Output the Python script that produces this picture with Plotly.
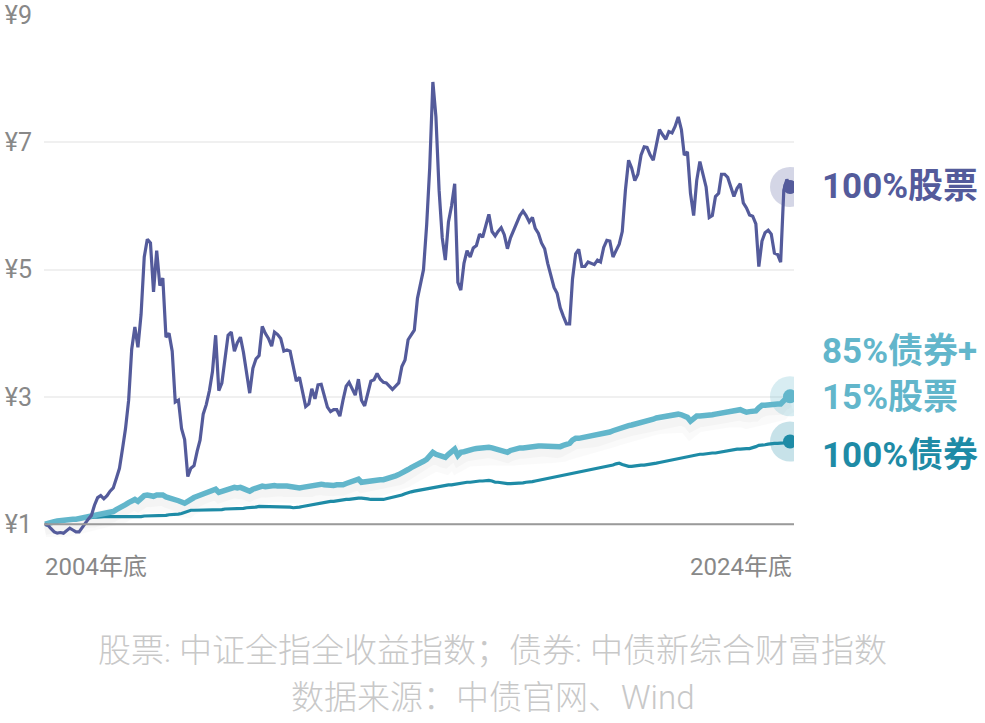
import pandas as pd
import plotly.graph_objects as go

# 月末数据：2004年底 -> 2024年底（起点=1元）
dates = pd.date_range("2004-12-31", periods=241, freq="ME")

stock = [
    1.00, 0.98, 0.93, 0.88, 0.86, 0.87, 0.86, 0.90, 0.94, 0.91, 0.88, 0.88,
    0.95, 1.03, 1.08, 1.14, 1.30, 1.42, 1.45, 1.40, 1.45, 1.52, 1.57, 1.72,
    1.88, 2.20, 2.50, 2.95, 3.75, 4.10, 3.78, 4.30, 5.20, 5.48, 5.42, 4.65,
    5.30, 4.75, 4.87, 3.94, 4.00, 3.72, 2.92, 2.95, 2.50, 2.33, 1.75, 1.88,
    1.92, 2.15, 2.32, 2.73, 2.88, 3.10, 3.40, 3.97, 3.10, 3.22, 3.60, 3.97,
    4.02, 3.72, 3.85, 3.94, 3.70, 3.40, 3.06, 3.45, 3.60, 3.65, 4.11, 4.00,
    3.92, 3.80, 4.02, 3.98, 3.92, 3.72, 3.74, 3.72, 3.50, 3.25, 3.31, 3.05,
    2.85, 2.89, 3.13, 2.97, 3.19, 3.20, 3.00, 2.84, 2.77, 2.80, 2.80, 2.70,
    2.95, 3.17, 3.23, 3.12, 3.03, 3.28, 2.95, 2.86, 3.05, 3.25, 3.27, 3.37,
    3.28, 3.23, 3.22, 3.16, 3.12, 3.17, 3.22, 3.48, 3.58, 3.90, 3.97, 4.05,
    4.55, 4.82, 5.00, 5.70, 6.60, 7.95, 7.40, 6.25, 5.50, 5.15, 5.75, 6.00,
    6.35, 4.80, 4.68, 5.10, 5.30, 5.20, 5.34, 5.38, 5.56, 5.51, 5.70, 5.87,
    5.60, 5.53, 5.60, 5.66, 5.55, 5.33, 5.50, 5.62, 5.75, 5.85, 5.92, 5.85,
    5.75, 5.82, 5.65, 5.57, 5.42, 5.33, 5.10, 4.90, 4.72, 4.63, 4.40, 4.27,
    4.15, 4.15, 4.85, 5.25, 5.32, 5.05, 5.05, 5.12, 5.10, 5.08, 5.15, 5.12,
    5.35, 5.46, 5.45, 5.20, 5.30, 5.40, 5.60, 6.25, 6.72, 6.60, 6.40, 6.50,
    6.80, 6.93, 6.92, 6.80, 6.72, 6.95, 7.20, 7.12, 7.05, 7.17, 7.15, 7.25,
    7.40, 7.20, 6.80, 6.85, 6.20, 5.85, 6.40, 6.70, 6.50, 6.30, 5.82, 5.85,
    6.15, 6.20, 6.50, 6.50, 6.45, 6.30, 6.15, 6.28, 6.35, 6.05, 5.97, 5.86,
    5.84, 5.72, 5.05, 5.45, 5.58, 5.62, 5.56, 5.26, 5.24, 5.12, 6.25, 6.42, 6.30,
]

mix = [
    1.00, 1.02, 1.03, 1.04, 1.05, 1.06, 1.06, 1.07, 1.07, 1.08, 1.08, 1.09,
    1.10, 1.10, 1.11, 1.12, 1.12, 1.13, 1.14, 1.15, 1.16, 1.18, 1.20, 1.23,
    1.25, 1.28, 1.31, 1.34, 1.37, 1.39, 1.36, 1.40, 1.45, 1.46, 1.44, 1.44,
    1.46, 1.47, 1.46, 1.43, 1.42, 1.41, 1.39, 1.37, 1.35, 1.33, 1.36, 1.40,
    1.42, 1.44, 1.46, 1.48, 1.50, 1.52, 1.54, 1.55, 1.50, 1.52, 1.54, 1.56,
    1.57, 1.58, 1.57, 1.58, 1.56, 1.54, 1.52, 1.55, 1.57, 1.59, 1.60, 1.59,
    1.60, 1.60, 1.61, 1.60, 1.61, 1.60, 1.60, 1.59, 1.58, 1.57, 1.57, 1.58,
    1.59, 1.60, 1.60, 1.62, 1.64, 1.63, 1.62, 1.61, 1.62, 1.61, 1.62, 1.61,
    1.62, 1.64, 1.66, 1.68, 1.70, 1.71, 1.66, 1.67, 1.68, 1.68, 1.69, 1.69,
    1.70, 1.70, 1.71, 1.72, 1.74, 1.76, 1.78, 1.80, 1.83, 1.86, 1.89, 1.91,
    1.93, 1.96, 1.99, 2.02, 2.08, 2.13, 2.10, 2.08, 2.06, 2.05, 2.10, 2.14,
    2.18, 2.08, 2.13, 2.14, 2.16, 2.17, 2.18, 2.19, 2.20, 2.20, 2.21, 2.21,
    2.20, 2.19, 2.18, 2.17, 2.15, 2.13, 2.16, 2.18, 2.19, 2.20, 2.20, 2.21,
    2.21, 2.22, 2.22, 2.23, 2.23, 2.23, 2.22, 2.22, 2.21, 2.21, 2.22, 2.24,
    2.26, 2.27, 2.32, 2.35, 2.35, 2.36, 2.36, 2.37, 2.37, 2.38, 2.39, 2.40,
    2.41, 2.43, 2.45, 2.47, 2.49, 2.51, 2.53, 2.54, 2.55, 2.56, 2.57, 2.58,
    2.60, 2.61, 2.62, 2.64, 2.65, 2.67, 2.68, 2.69, 2.70, 2.70, 2.71, 2.72,
    2.73, 2.72, 2.70, 2.68, 2.62, 2.66, 2.70, 2.70, 2.70, 2.71, 2.71, 2.72,
    2.73, 2.74, 2.76, 2.77, 2.78, 2.79, 2.80, 2.81, 2.80, 2.78, 2.76, 2.77,
    2.78, 2.78, 2.83, 2.87, 2.87, 2.88, 2.88, 2.89, 2.89, 2.89, 2.95, 2.99, 3.01,
]

bond = [
    1.00, 1.01, 1.02, 1.03, 1.04, 1.05, 1.05, 1.06, 1.07, 1.08, 1.08, 1.09,
    1.09, 1.10, 1.10, 1.11, 1.11, 1.11, 1.12, 1.12, 1.12, 1.12, 1.11, 1.11,
    1.11, 1.11, 1.11, 1.11, 1.12, 1.12, 1.12, 1.12, 1.13, 1.13, 1.13, 1.13,
    1.13, 1.14, 1.14, 1.14, 1.15, 1.15, 1.15, 1.16, 1.17, 1.19, 1.21, 1.22,
    1.22, 1.22, 1.22, 1.22, 1.22, 1.22, 1.23, 1.23, 1.23, 1.23, 1.24, 1.24,
    1.24, 1.24, 1.25, 1.25, 1.25, 1.26, 1.26, 1.27, 1.27, 1.28, 1.28, 1.28,
    1.28, 1.27, 1.27, 1.27, 1.28, 1.28, 1.28, 1.27, 1.26, 1.26, 1.27, 1.28,
    1.29, 1.30, 1.31, 1.31, 1.32, 1.33, 1.34, 1.35, 1.36, 1.36, 1.37, 1.37,
    1.38, 1.39, 1.39, 1.40, 1.40, 1.41, 1.41, 1.41, 1.40, 1.39, 1.39, 1.38,
    1.38, 1.39, 1.40, 1.41, 1.42, 1.43, 1.44, 1.46, 1.48, 1.50, 1.51, 1.52,
    1.53, 1.54, 1.55, 1.55, 1.56, 1.57, 1.58, 1.59, 1.60, 1.61, 1.62, 1.62,
    1.63, 1.64, 1.65, 1.65, 1.66, 1.66, 1.67, 1.67, 1.68, 1.68, 1.69, 1.69,
    1.68, 1.66, 1.66, 1.65, 1.65, 1.64, 1.64, 1.64, 1.65, 1.65, 1.65, 1.66,
    1.66, 1.67, 1.68, 1.69, 1.70, 1.71, 1.72, 1.73, 1.74, 1.75, 1.76, 1.77,
    1.78, 1.79, 1.80, 1.81, 1.82, 1.83, 1.84, 1.85, 1.86, 1.87, 1.88, 1.89,
    1.90, 1.91, 1.92, 1.93, 1.95, 1.96, 1.94, 1.92, 1.91, 1.91, 1.92, 1.92,
    1.93, 1.93, 1.94, 1.95, 1.96, 1.96, 1.97, 1.98, 1.99, 2.00, 2.02, 2.03,
    2.04, 2.05, 2.06, 2.06, 2.07, 2.08, 2.09, 2.10, 2.10, 2.11, 2.11, 2.12,
    2.12, 2.13, 2.13, 2.14, 2.15, 2.16, 2.17, 2.18, 2.18, 2.19, 2.19, 2.19,
    2.20, 2.22, 2.24, 2.24, 2.25, 2.26, 2.27, 2.27, 2.27, 2.27, 2.28, 2.29, 2.30,
]

y_ticks = [1, 3, 5, 7, 9]
y_ticktext = ["¥1", "¥3", "¥5", "¥7", "¥9"]
x_labels = ["2004年底", "2024年底"]

C_STOCK = "#545b9b"
C_MIX = "#62b6cb"
C_BOND = "#1e8ba6"
FONT = "Roboto, Noto Sans CJK SC, sans-serif"

fig = go.Figure()

# 混合组合下方的淡阴影
fig.add_trace(go.Scatter(x=dates, y=[v - 0.12 for v in mix], mode="lines",
                         line=dict(color="rgba(0,0,0,0.02)", width=18),
                         hoverinfo="skip", showlegend=False))
fig.add_trace(go.Scatter(x=dates, y=[v - 0.1 for v in mix], mode="lines",
                         line=dict(color="rgba(0,0,0,0.025)", width=9),
                         hoverinfo="skip", showlegend=False))

fig.add_trace(go.Scatter(x=dates, y=bond, mode="lines",
                         line=dict(color=C_BOND, width=3.2), name="100%债券"))
fig.add_trace(go.Scatter(x=dates, y=mix, mode="lines",
                         line=dict(color=C_MIX, width=5.5), name="85%债券+15%股票"))
fig.add_trace(go.Scatter(x=dates, y=stock, mode="lines",
                         line=dict(color=C_STOCK, width=3.2), name="100%股票"))

# 终点的光圈和圆点
for series, halo, col in [(stock, "rgba(84,91,155,0.25)", C_STOCK),
                          (mix, "rgba(98,182,203,0.25)", C_MIX),
                          (bond, "rgba(30,139,166,0.25)", C_BOND)]:
    fig.add_trace(go.Scatter(x=[dates[-1]], y=[series[-1]], mode="markers",
                             marker=dict(size=40, color=halo), hoverinfo="skip",
                             showlegend=False))
    fig.add_trace(go.Scatter(x=[dates[-1]], y=[series[-1]], mode="markers",
                             marker=dict(size=14, color=col), showlegend=False))

# 右侧标签
label_style = dict(xref="x", yref="y", xanchor="left", yanchor="middle",
                   showarrow=False, xshift=30, align="left")
fig.add_annotation(x=dates[-1], y=stock[-1], text="<b>100%股票</b>",
                   font=dict(family=FONT, size=35, color=C_STOCK), **label_style)
fig.add_annotation(x=dates[-1], y=mix[-1], text="<b>85%债券+<br>15%股票</b>", yshift=22,
                   font=dict(family=FONT, size=35, color=C_MIX), **label_style)
fig.add_annotation(x=dates[-1], y=bond[-1], text="<b>100%债券</b>", yshift=-14,
                   font=dict(family=FONT, size=35, color=C_BOND), **label_style)

# x轴两端标签
fig.add_annotation(x=dates[0], y=-0.058, xref="x", yref="paper", text=x_labels[0],
                   xanchor="left", yanchor="middle", showarrow=False, xshift=-2,
                   font=dict(family=FONT, size=24, color="#888888"))
fig.add_annotation(x=dates[-1], y=-0.058, xref="x", yref="paper", text=x_labels[1],
                   xanchor="right", yanchor="middle", showarrow=False, xshift=4,
                   font=dict(family=FONT, size=24, color="#888888"))

# 底部说明（居中于整幅图）
fig.add_annotation(x=0.598, y=-0.218, xref="paper", yref="paper",
                   text="股票: 中证全指全收益指数；债券: 中债新综合财富指数",
                   showarrow=False, xanchor="center", yanchor="middle",
                   font=dict(family=FONT, size=33, color="#c8c8c8", weight=300))
fig.add_annotation(x=0.598, y=-0.308, xref="paper", yref="paper",
                   text="数据来源：中债官网、Wind",
                   showarrow=False, xanchor="center", yanchor="middle",
                   font=dict(family=FONT, size=33, color="#c8c8c8", weight=300))

# 基准线 ¥1
fig.add_shape(type="line", xref="paper", yref="y", x0=0, x1=1, y0=1, y1=1,
              line=dict(color="#9a9a9a", width=2))

fig.update_layout(
    width=985, height=723,
    margin=dict(l=44, r=191, t=15, b=186),
    plot_bgcolor="white", paper_bgcolor="white",
    showlegend=False,
    xaxis=dict(range=["2004-12-21", "2025-02-08"], showgrid=False, showticklabels=False,
               zeroline=False, showline=False, ticks="", automargin=False),
    yaxis=dict(range=[0.8, 9.002], tickvals=y_ticks, ticktext=y_ticktext,
               showgrid=True, gridcolor="#f0f0f0", gridwidth=1.5, zeroline=False,
               showline=False, ticks="", ticklabelstandoff=11, automargin=False,
               tickfont=dict(family=FONT, size=25, color="#888888")),
)

# 去掉页面默认的 body 外边距，让图表贴齐窗口
fig.write_html("out.html", config={"displayModeBar": False},
               post_script="document.body.style.margin='0';")
